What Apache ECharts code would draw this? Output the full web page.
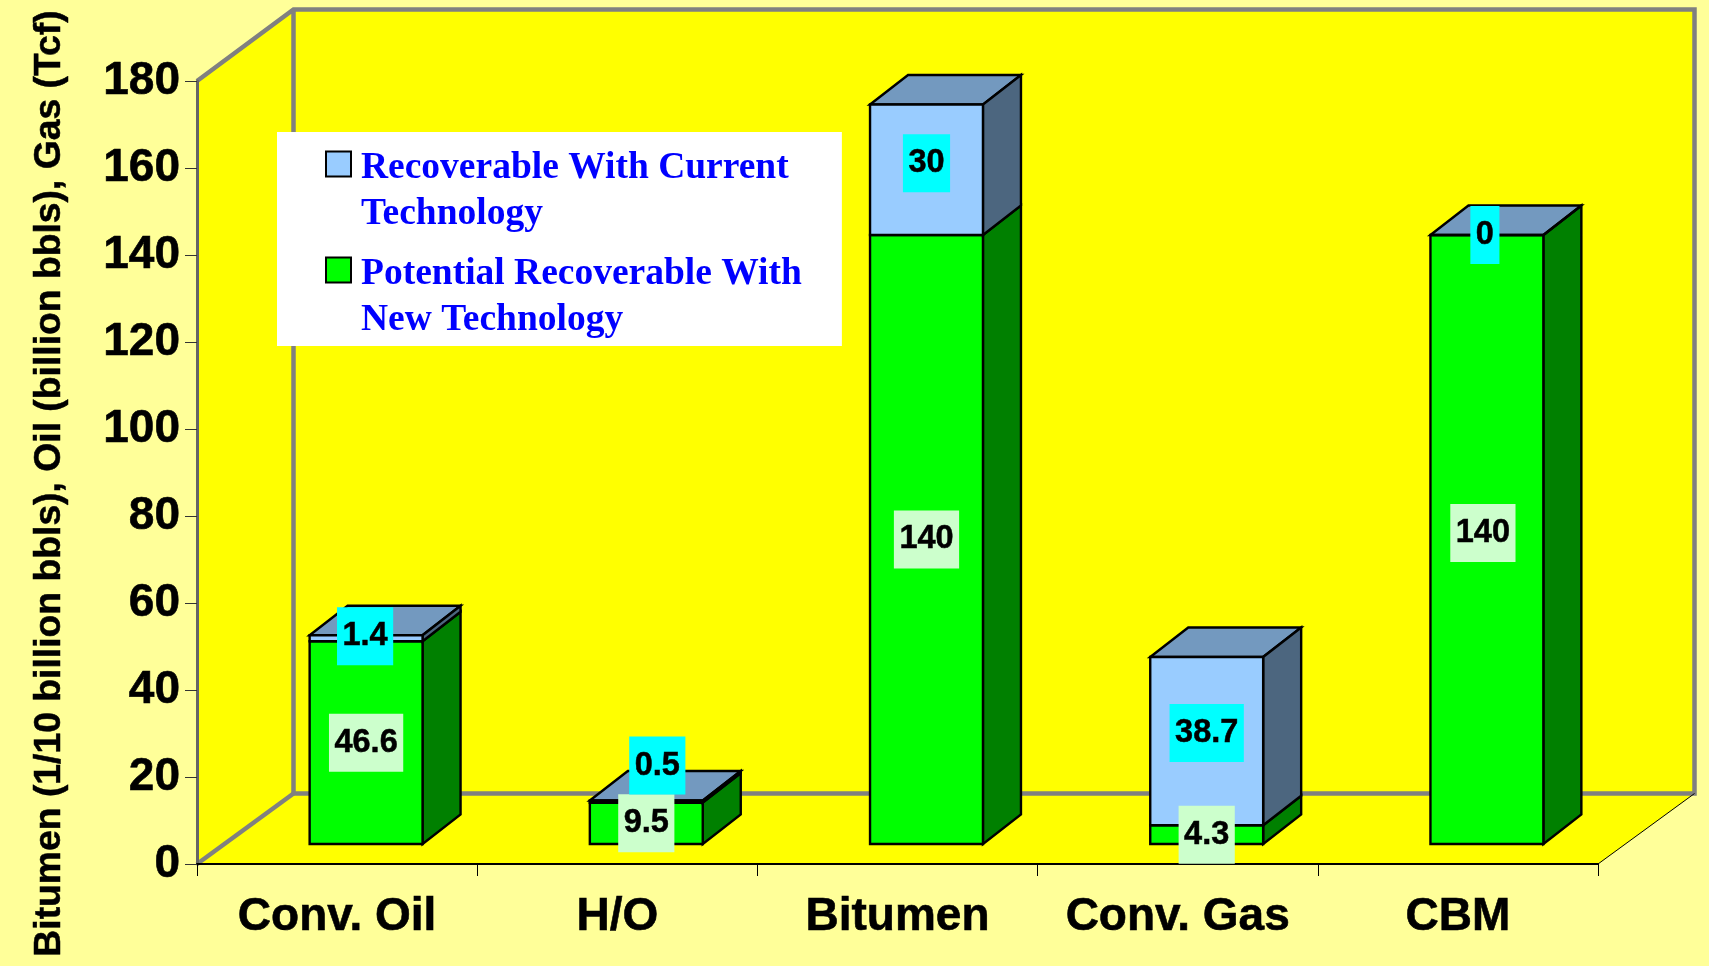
<!DOCTYPE html>
<html>
<head>
<meta charset="utf-8">
<style>html,body{margin:0;padding:0;background:#ffff99}#c{width:1709px;height:966px}</style>
<script src="https://cdn.jsdelivr.net/npm/echarts@6/dist/echarts.min.js"></script>
</head>
<body>
<div id="c"></div>
<script>
const categories = ['Conv. Oil', 'H/O', 'Bitumen', 'Conv. Gas', 'CBM'];
const potentialNew = [46.6, 9.5, 140, 4.3, 140];
const currentTech = [1.4, 0.5, 30, 38.7, 0];
const yTicks = { min: 0, max: 180, interval: 20 };
const yTitle = 'Bitumen (1/10 billion bbls), Oil (billion bbls), Gas (Tcf)';
const legendCurrent = 'Recoverable With Current Technology';
const legendNew = 'Potential Recoverable With New Technology';
const legendLines = {};
legendLines[legendCurrent] = 'Recoverable With Current\nTechnology';
legendLines[legendNew] = 'Potential Recoverable With\nNew Technology';

// 3-D look, in pixels
const WALL_DX = 96.5, WALL_DY = 70.5;
const BACK_TOP_DY = 71.5;
const BAR_SHIFT_X = 29, BAR_LIFT = 20, BAR_DX = 38, BAR_DY = 29.5, BAR_RATIO = 0.403;
// hand-placed data labels in the original [dx, dy]
const nudgeNew = [[0, 0], [0, 0], [0, 0], [0, 0], [-4, -6.5]];
const nudgeCur = [[-1, -2], [11, -36], [0, -6.5], [0, -8], [-2, 0]];

const GRID = { left: 197, right: 111, top: 81, bottom: 102 };

function barFaces(api, base, val, front, side, withTop) {
  const cat = api.value(0);
  const band = api.size([1, 0])[0];
  const w = band * BAR_RATIO;
  const p0 = api.coord([cat, base]), p1 = api.coord([cat, base + val]);
  const xl = p0[0] + BAR_SHIFT_X - w / 2, xr = xl + w;
  const yb = p0[1] - BAR_LIFT, yt = p1[1] - BAR_LIFT;
  const st = c => ({ fill: c, stroke: '#000', lineWidth: 2.4, lineJoin: 'miter' });
  const kids = [];
  if (withTop) {
    kids.push({ type: 'polygon', shape: { points: [[xl, yt], [xl + BAR_DX, yt - BAR_DY], [xr + BAR_DX, yt - BAR_DY], [xr, yt]] }, style: st(withTop) });
  }
  kids.push({ type: 'polygon', shape: { points: [[xr, yb], [xr + BAR_DX, yb - BAR_DY], [xr + BAR_DX, yt - BAR_DY], [xr, yt]] }, style: st(side) });
  kids.push({ type: 'polygon', shape: { points: [[xl, yb], [xr, yb], [xr, yt], [xl, yt]] }, style: st(front) });
  return { type: 'group', children: kids };
}

function labelItem(api, bg, nudges) {
  const cat = api.value(0), base = api.value(1), val = api.value(2);
  const p = api.coord([cat, base + val / 2]);
  const n = nudges[cat];
  return {
    type: 'text',
    x: p[0] + BAR_SHIFT_X + n[0],
    y: p[1] - BAR_LIFT + n[1],
    style: {
      text: String(val), x: 0, y: 0, align: 'center', verticalAlign: 'middle',
      font: 'bold 32.5px "Liberation Sans"', fill: '#000', lineHeight: 36,
      stroke: '#000', lineWidth: 0.5,
      backgroundColor: bg, padding: [13, 5.5, 9, 5.5]
    }
  };
}

function wallItem(params) {
  const c = params.coordSys;
  const L = c.x, R = c.x + c.width, T = c.y, B = c.y + c.height;
  const bl = L + WALL_DX, br = R + WALL_DX, bt = T - BACK_TOP_DY, bb = B - WALL_DY;
  const fill = { fill: '#ffff00' };
  const gray = { stroke: '#808080', lineWidth: 4.5, fill: 'none' };
  return {
    type: 'group', children: [
      { type: 'polygon', shape: { points: [[L, T], [bl, bt], [br, bt], [br, bb], [R, B], [L, B]] }, style: fill },
      { type: 'polyline', shape: { points: [[L, T], [bl, bt], [br, bt], [br, bb], [bl, bb], [bl, bt]] }, style: gray },
      { type: 'line', shape: { x1: L, y1: B, x2: bl, y2: bb }, style: { stroke: '#808080', lineWidth: 4.5 } },
      { type: 'line', shape: { x1: R, y1: B, x2: br, y2: bb }, style: { stroke: '#000', lineWidth: 1 } }
    ]
  };
}

const newRows = categories.map((c, i) => [i, 0, potentialNew[i]]);
const curRows = categories.map((c, i) => [i, potentialNew[i], currentTech[i]]);
const encode = { x: 0, y: [1, 2] };

const legendIcon = 'path://M0 0H25V25H0Z M30 79';

const chart = echarts.init(document.getElementById('c'), null, { renderer: 'canvas' });
chart.setOption({
  backgroundColor: '#ffff99',
  animation: false,
  grid: GRID,
  legend: {
    orient: 'vertical', left: 277, top: 132,
    backgroundColor: '#ffffff', padding: [13, 40, 3, 48],
    itemWidth: 30, itemHeight: 79, itemGap: 14, symbolKeepAspect: false, z: 9,
    textStyle: { fontFamily: '"Liberation Serif"', fontWeight: 'bold', fontSize: 37.5, lineHeight: 46, color: '#0000ff' },
    formatter: n => legendLines[n],
    selectedMode: false,
    data: [
      { name: legendCurrent, icon: legendIcon, itemStyle: { color: '#99ccff', borderColor: '#000', borderWidth: 2 } },
      { name: legendNew, icon: legendIcon, itemStyle: { color: '#00ff00', borderColor: '#000', borderWidth: 2 } }
    ]
  },
  xAxis: {
    type: 'category', data: categories, z: 3,
    axisLine: { lineStyle: { color: '#000', width: 2 } },
    axisTick: { show: true, length: 12, lineStyle: { color: '#000', width: 1 } },
    axisLabel: { margin: 30, fontFamily: '"Liberation Sans"', fontWeight: 'bold', fontSize: 46, color: '#000', interval: 0, textBorderColor: '#000', textBorderWidth: 0.6 }
  },
  yAxis: {
    type: 'value', min: yTicks.min, max: yTicks.max, interval: yTicks.interval, z: 3,
    name: yTitle, nameLocation: 'middle', nameGap: 129, nameRotate: 90,
    nameTextStyle: { fontFamily: '"Liberation Sans"', fontWeight: 'bold', fontSize: 37.3, color: '#000', padding: [0, 22, 0, 0], textBorderColor: '#000', textBorderWidth: 0.5 },
    axisLine: { show: true, lineStyle: { color: '#666', width: 3 } },
    axisTick: { show: true, length: 12, lineStyle: { color: '#333', width: 1 } },
    splitLine: { show: false },
    axisLabel: { margin: 17, padding: [3, 0, 0, 0], fontFamily: '"Liberation Sans"', fontWeight: 'bold', fontSize: 46, color: '#000', textBorderColor: '#000', textBorderWidth: 0.6 }
  },
  series: [
    { name: 'walls', type: 'custom', coordinateSystem: 'cartesian2d', z: 1, silent: true, clip: false, data: [[0, 0]],
      renderItem: params => wallItem(params) },
    { name: legendNew, type: 'custom', coordinateSystem: 'cartesian2d', z: 4, silent: true, clip: false, data: newRows, encode,
      itemStyle: { color: '#00ff00' },
      renderItem: (p, api) => barFaces(api, api.value(1), api.value(2), '#00ff00', '#008000', null) },
    { name: legendCurrent, type: 'custom', coordinateSystem: 'cartesian2d', z: 5, silent: true, clip: false, data: curRows, encode,
      itemStyle: { color: '#99ccff' },
      renderItem: (p, api) => barFaces(api, api.value(1), api.value(2), '#99ccff', '#4c667f', '#7399bf') },
    { name: 'labels new', type: 'custom', coordinateSystem: 'cartesian2d', z: 6, silent: true, clip: false, data: newRows, encode,
      renderItem: (p, api) => labelItem(api, '#ccffcc', nudgeNew) },
    { name: 'labels current', type: 'custom', coordinateSystem: 'cartesian2d', z: 7, silent: true, clip: false, data: curRows, encode,
      renderItem: (p, api) => labelItem(api, '#00ffff', nudgeCur) }
  ]
});
</script>
</body>
</html>
